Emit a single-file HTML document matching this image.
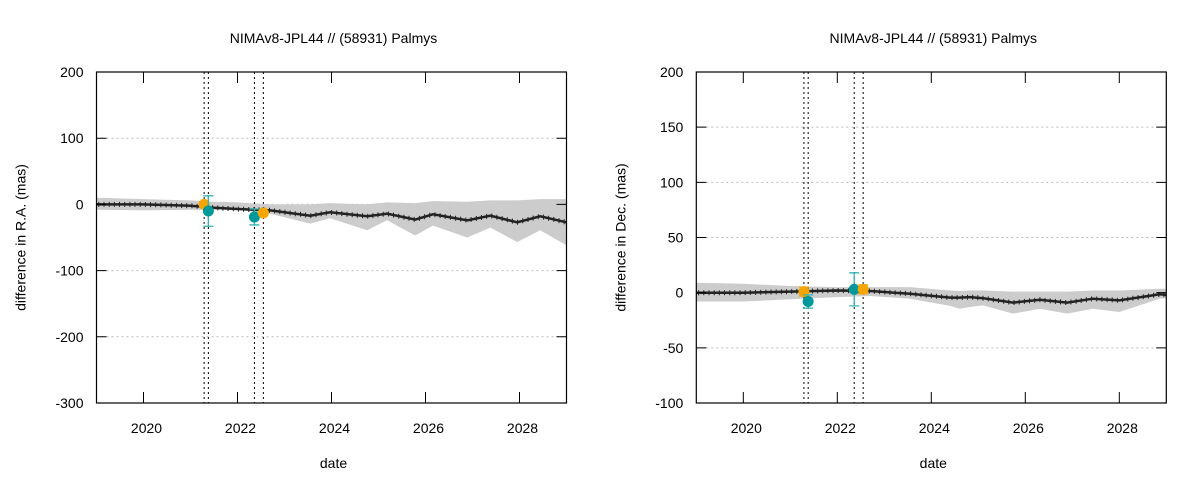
<!DOCTYPE html>
<html><head><meta charset="utf-8">
<style>
html,body{margin:0;padding:0;background:#fff;}
svg{display:block;font-family:"Liberation Sans",Arial,sans-serif;}
</style></head>
<body>
<svg id="chart" width="1200" height="480" viewBox="0 0 1200 480" xmlns="http://www.w3.org/2000/svg"></svg>
<script>
// ---- data: RA panel ----
const raYears = [2019, 2020, 2021, 2021.5, 2022, 2022.7, 2023.55, 2023.97, 2024.76, 2025.18, 2025.78, 2026.16, 2026.89, 2027.38, 2027.95, 2028.44, 2029];
const raMean  = [0, 0, -2, -5, -7, -9, -17, -12, -18, -14, -23, -15, -24, -17, -27, -18, -27];
const raLower = [-8, -9, -8, -8, -8, -14, -29, -21, -39, -24, -47, -32, -50, -35, -57, -39, -62];
const raUpper = [10, 8, 6, 4, 3, 0, 0, 2, 0, 3, 2, 5, 4, 6, 6, 8, 8];
const raObsYears = [2021.29, 2021.38, 2022.36, 2022.55];
const raObsVals  = [0, -10, -19, -13];
const raObsErr   = [4, 23, 12, 3];
// ---- data: Dec panel ----
const decYears = [2019, 2020, 2021, 2022, 2022.7, 2023.55, 2024.4, 2024.6, 2024.82, 2025.1, 2025.74, 2026.31, 2026.89, 2027.44, 2028.0, 2028.86, 2029];
const decMean  = [0, 0, 1, 2, 1.5, -1, -4.5, -4.5, -4, -5, -9, -6.5, -9, -5.5, -7, -1.5, -2];
const decLower = [-8, -8, -6, -4, -3, -5.5, -12, -14.5, -13, -11.5, -19, -14.5, -19, -14.5, -17.5, -5.5, -5];
const decUpper = [9, 8, 6, 5, 5, 5, 2, 1.5, 2, 2, 1, 1, 1, 2, 2, 3.5, 3.5];
const decObsYears = [2021.29, 2021.38, 2022.36, 2022.55];
const decObsVals  = [1, -8, 3, 3];
const decObsErr   = [4, 6, 15, 4];
const obsColors = ['#f5a500','#00999a','#00999a','#f5a500'];
const vlineYears = [2021.29, 2021.38, 2022.36, 2022.55];
const xTicks = [2020, 2022, 2024, 2026, 2028];
const raTicks = [200, 100, 0, -100, -200, -300];
const decTicks = [200, 150, 100, 50, 0, -50, -100];

const NS='http://www.w3.org/2000/svg';
const svg=document.getElementById('chart');
function mk(tag, attrs, parent){const e=document.createElementNS(NS,tag);for(const k in attrs)e.setAttribute(k,attrs[k]);(parent||svg).appendChild(e);return e;}

function interp(xsArr, ysArr, x){
  for(let i=1;i<xsArr.length;i++){ if(x<=xsArr[i]){const t=(x-xsArr[i-1])/(xsArr[i]-xsArr[i-1]);return ysArr[i-1]+t*(ysArr[i]-ysArr[i-1]);} }
  return ysArr[ysArr.length-1];
}

function panel(o){
  const g=mk('g',{});
  
  
  const L=o.left,R=o.left+470,T=72,B=403;
  const xs=y=>L+(y-2019)/10*470;
  const ys=v=>B-(v-o.ymin)/(o.ymax-o.ymin)*(B-T);
  o.ticks.forEach(t=>{
    const gl=mk('line',{x1:L,x2:R,y1:ys(t),y2:ys(t),stroke:'#bbb','stroke-width':1,'stroke-dasharray':'2,3'},g);
    
    
  });
  let d='';
  o.years.forEach((y,i)=>{d+=(i?'L':'M')+xs(y).toFixed(1)+','+ys(o.upper[i]).toFixed(1);});
  for(let i=o.years.length-1;i>=0;i--) d+='L'+xs(o.years[i]).toFixed(1)+','+ys(o.lower[i]).toFixed(1);
  const band=mk('path',{d:d+'Z',fill:'#cccccc',stroke:'none'},g);
  
  
  let m='';
  o.years.forEach((y,i)=>{m+=(i?'L':'M')+xs(y).toFixed(1)+','+ys(o.mean[i]).toFixed(1);});
  const ml=mk('path',{d:m,fill:'none',stroke:'#222','stroke-width':2.5},g);
  
  
  // small tick marks along the mean line (styling)
  let tm='';
  for(let yr=2019.05; yr<2029; yr+=0.11){
    const cy=ys(interp(o.years,o.mean,yr));
    tm+=`M${xs(yr).toFixed(1)},${(cy-2.5).toFixed(1)}v5`;
  }
  const tml=mk('path',{d:tm,stroke:'#222','stroke-width':1,fill:'none'},g);
  
  
  vlineYears.forEach(y=>{
    const vl=mk('line',{x1:xs(y),x2:xs(y),y1:T,y2:B,stroke:'#000','stroke-width':1,'stroke-dasharray':'2,3'},g);
    
    
  });
  o.obsY.forEach((y,i)=>{
    const cx=xs(y),cy=ys(o.obsV[i]),e=o.obsE[i]*(B-T)/(o.ymax-o.ymin),c=obsColors[i];
    const col=c==='#00999a'?'#33b4b4':c;
    const eb=mk('path',{d:`M${cx},${cy-e}V${cy+e}M${cx-5},${cy-e}H${cx+5}M${cx-5},${cy+e}H${cx+5}`,stroke:col,'stroke-width':1.3,fill:'none'},g);
    
    
    const pt=mk('circle',{cx:cx,cy:cy,r:5.5,fill:c},g);
    
    
  });
  const fr=mk('rect',{x:L,y:T,width:470,height:B-T,fill:'none',stroke:'#000','stroke-width':1.2},g);
  
  
  o.ticks.forEach(t=>{
    const tk=mk('path',{d:`M${L},${ys(t)}h10M${R},${ys(t)}h-10`,stroke:'#000','stroke-width':1},g);
    
    
    const tl=mk('text',{x:L-13,y:ys(t)+5,'text-anchor':'end','font-size':14,fill:'#000'},g);
    tl.textContent=t;
    
    
  });
  xTicks.forEach(t=>{
    const tk=mk('path',{d:`M${xs(t)},${B}v-11M${xs(t)},${T}v11`,stroke:'#000','stroke-width':1},g);
    
    
    const tl=mk('text',{x:xs(t)+3,y:B+30,'text-anchor':'middle','font-size':14,fill:'#000'},g);
    tl.textContent=t;
    
    
  });
  const ti=mk('text',{x:L+237,y:43,'text-anchor':'middle','font-size':14,fill:'#000'},g);
  ti.textContent='NIMAv8-JPL44 // (58931) Palmys';
  
  
  const xl=mk('text',{x:L+237,y:468,'text-anchor':'middle','font-size':14,fill:'#000'},g);
  xl.textContent='date';
  
  
  const yl=mk('text',{x:0,y:0,'text-anchor':'middle','font-size':14,fill:'#000',transform:`translate(${L-71},${(T+B)/2}) rotate(-90)`},g);
  yl.textContent=o.ylabel;
  
  
}
panel({name:'ra-panel',left:96.5,ymin:-300,ymax:200,ticks:raTicks,years:raYears,mean:raMean,lower:raLower,upper:raUpper,obsY:raObsYears,obsV:raObsVals,obsE:raObsErr,ylabel:'difference in R.A. (mas)'});
panel({name:'dec-panel',left:696.3,ymin:-100,ymax:200,ticks:decTicks,years:decYears,mean:decMean,lower:decLower,upper:decUpper,obsY:decObsYears,obsV:decObsVals,obsE:decObsErr,ylabel:'difference in Dec. (mas)'});
</script>
</body></html>
